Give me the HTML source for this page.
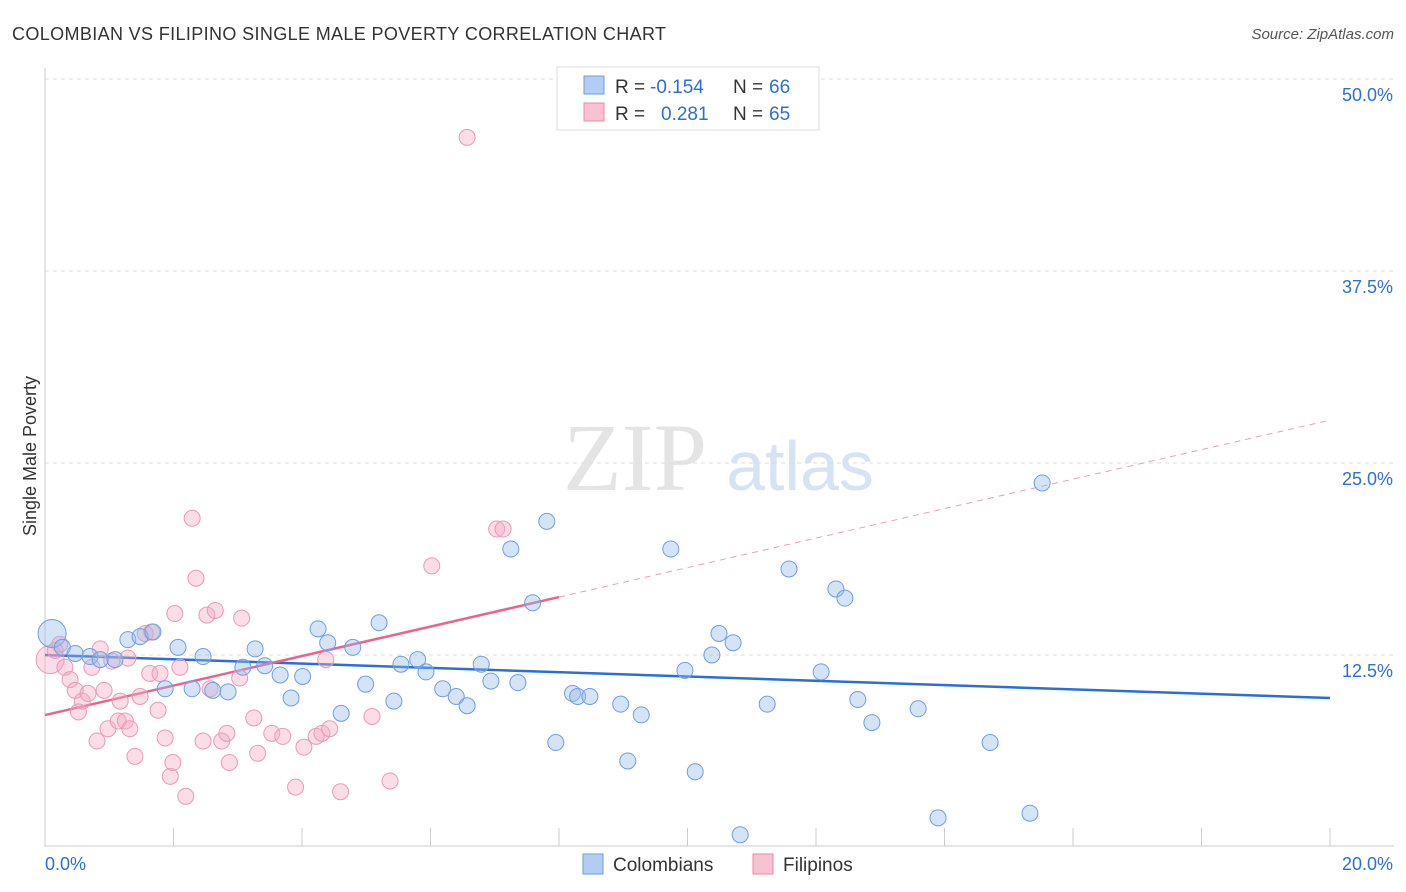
<!DOCTYPE html>
<html><head><meta charset="utf-8"><style>
body{margin:0;background:#fff;font-family:"Liberation Sans",sans-serif;}
</style></head><body>
<svg id="chart" width="1406" height="892" viewBox="0 0 1406 892" style="position:absolute;left:0;top:0">
<text x="12" y="40" font-size="18" fill="#333" textLength="654">COLOMBIAN VS FILIPINO SINGLE MALE POVERTY CORRELATION CHART</text>
<text x="1394" y="39" font-size="15" fill="#555" font-style="italic" text-anchor="end">Source: ZipAtlas.com</text>
<text x="36" y="456" font-size="18" fill="#333" transform="rotate(-90 36 456)" text-anchor="middle">Single Male Poverty</text>
<text x="635" y="490" font-size="96" fill="#e4e4e4" font-family="Liberation Serif,serif" text-anchor="middle">ZIP</text>
<text x="800" y="490" font-size="70" fill="#d6e3f5" text-anchor="middle">atlas</text>
<g id="grid"></g><g id="axes"></g><g id="lines"></g><g id="pts"></g>
<g>
<rect x="557" y="67" width="262" height="63" fill="#fff" stroke="#ddd"/>
<rect x="584" y="76" width="20" height="18" fill="#b3cdf2" stroke="#6e9fe0"/>
<rect x="584" y="103" width="20" height="18" fill="#f7c3d3" stroke="#e88aaa"/>
<text x="615" y="93" font-size="19" fill="#333">R =</text>
<text x="650" y="93" font-size="19" fill="#2c6fd6">-0.154</text>
<text x="733" y="93" font-size="19" fill="#333">N =</text>
<text x="769" y="93" font-size="19" fill="#2c6fd6">66</text>
<text x="615" y="120" font-size="19" fill="#333">R =</text>
<text x="661" y="120" font-size="19" fill="#2c6fd6">0.281</text>
<text x="733" y="120" font-size="19" fill="#333">N =</text>
<text x="769" y="120" font-size="19" fill="#2c6fd6">65</text>
</g>
<g>
<rect x="583" y="854" width="20" height="20" fill="#b3cdf2" stroke="#6e9fe0"/>
<text x="613" y="871" font-size="19" fill="#333">Colombians</text>
<rect x="753" y="854" width="20" height="20" fill="#f7c3d3" stroke="#e88aaa"/>
<text x="783" y="871" font-size="19" fill="#333">Filipinos</text>
</g>
</svg>
<script>
const yTicks=[12.5,25,37.5,50];
const yTickLabels=["12.5%","25.0%","37.5%","50.0%"];
const xTicks=[0,2,4,6,8,10,12,14,16,18,20];
const blueX=[0.11,0.27,0.47,0.7,0.86,1.09,1.29,1.48,1.68,1.87,2.07,2.29,2.46,2.61,2.85,3.08,3.27,3.42,3.66,3.83,4.01,4.25,4.4,4.61,4.79,4.99,5.2,5.43,5.54,5.8,5.93,6.19,6.4,6.57,6.79,6.94,7.25,7.36,7.59,7.81,7.95,8.21,8.29,8.48,8.96,9.07,9.28,9.74,9.96,10.12,10.38,10.49,10.71,10.82,11.24,11.58,12.08,12.31,12.45,12.65,12.87,13.59,13.9,14.71,15.33,15.52];
const blueY=[13.9,13.0,12.6,12.4,12.2,12.2,13.5,13.7,14.0,10.3,13.0,10.3,12.4,10.2,10.1,11.7,12.9,11.8,11.2,9.7,11.1,14.2,13.3,8.7,13.0,10.6,14.6,9.5,11.9,12.2,11.4,10.3,9.8,9.2,11.9,10.8,19.4,10.7,15.9,21.2,6.8,10.0,9.8,9.8,9.3,5.6,8.6,19.4,11.5,4.9,12.5,13.9,13.3,0.8,9.3,18.1,11.4,16.8,16.2,9.6,8.1,9.0,1.9,6.8,2.2,23.7];
const pinkX=[0.08,0.16,0.23,0.31,0.39,0.47,0.52,0.58,0.67,0.73,0.81,0.86,0.92,0.98,1.04,1.14,1.17,1.25,1.29,1.32,1.4,1.48,1.56,1.63,1.66,1.76,1.79,1.87,1.95,1.99,2.02,2.1,2.19,2.29,2.35,2.46,2.52,2.57,2.65,2.75,2.83,2.87,3.03,3.06,3.25,3.31,3.53,3.7,3.9,4.03,4.22,4.31,4.37,4.43,4.6,5.09,5.37,6.02,6.57,7.03,7.13];
const pinkY=[12.2,12.8,13.2,11.7,10.9,10.2,8.8,9.5,10.0,11.7,6.9,12.9,10.2,7.7,12.1,8.2,9.5,8.2,12.3,7.7,5.9,9.8,13.9,11.3,14.0,8.9,11.3,7.1,4.6,5.5,15.2,11.7,3.3,21.4,17.5,6.9,15.1,10.3,15.4,6.9,7.4,5.5,11.0,14.9,8.4,6.1,7.4,7.2,3.9,6.5,7.2,7.4,12.2,7.7,3.6,8.5,4.3,18.3,46.2,20.7,20.7];
const blueTrend=[12.5,-0.14];
const pinkTrend=[8.59,0.96];
const SVGNS="http://www.w3.org/2000/svg";
const X0=45,X1=1330,Y0=847,YPER=15.36;
const xs=v=>X0+(v/20)*(X1-X0);
const ys=v=>Y0-v*YPER;
function mk(tag,attrs,parent){const e=document.createElementNS(SVGNS,tag);for(const k in attrs)e.setAttribute(k,attrs[k]);document.getElementById(parent).appendChild(e);return e;}
yTicks.forEach((t,i)=>{
 const l=mk('line',{x1:45,x2:1394,y1:ys(t),y2:ys(t),stroke:'#ddd','stroke-dasharray':'4,4'},'grid');
 
 
 const tx=mk('text',{x:1393,y:ys(t)+22,'font-size':18,fill:'#2c6fd6','text-anchor':'end'},'grid');
 tx.textContent=yTickLabels[i];
 
 
});
const ax=mk('line',{x1:45,x2:45,y1:68,y2:847,stroke:'#ccc'},'axes');


const bx=mk('line',{x1:45,x2:1394,y1:846,y2:846,stroke:'#ccc'},'axes');


xTicks.forEach(t=>{
 const l=mk('line',{x1:xs(t),x2:xs(t),y1:828,y2:846,stroke:'#ccc'},'axes');
 
 
});
const xl0=mk('text',{x:45,y:870,'font-size':18,fill:'#2c6fd6'},'axes');xl0.textContent='0.0%';


const xl1=mk('text',{x:1393,y:870,'font-size':18,fill:'#2c6fd6','text-anchor':'end'},'axes');xl1.textContent='20.0%';


pinkX.forEach((x,i)=>{
 const c=mk('circle',{cx:xs(x),cy:ys(pinkY[i]),r:i==0?14:8,fill:'rgba(244,170,195,0.4)',stroke:'#e99ab5','stroke-width':1},'pts');
 
 
});
blueX.forEach((x,i)=>{
 const c=mk('circle',{cx:xs(x),cy:ys(blueY[i]),r:i==0?14:8,fill:'rgba(150,185,235,0.4)',stroke:'#6e9fe0','stroke-width':1},'pts');
 
 
});
const [ba,bb]=blueTrend;
const bl=mk('line',{x1:xs(0),y1:ys(ba),x2:xs(20),y2:ys(ba+bb*20),stroke:'#2a6fd6','stroke-width':2.5},'lines');


const [pa,pb]=pinkTrend;
const pl=mk('line',{x1:xs(0),y1:ys(pa),x2:xs(8),y2:ys(pa+pb*8),stroke:'#e8648f','stroke-width':2.5},'lines');


const pd=mk('line',{x1:xs(8),y1:ys(pa+pb*8),x2:xs(20),y2:ys(pa+pb*20),stroke:'#e8a0b8','stroke-width':1,'stroke-dasharray':'6,5'},'lines');


</script>
</body></html>
